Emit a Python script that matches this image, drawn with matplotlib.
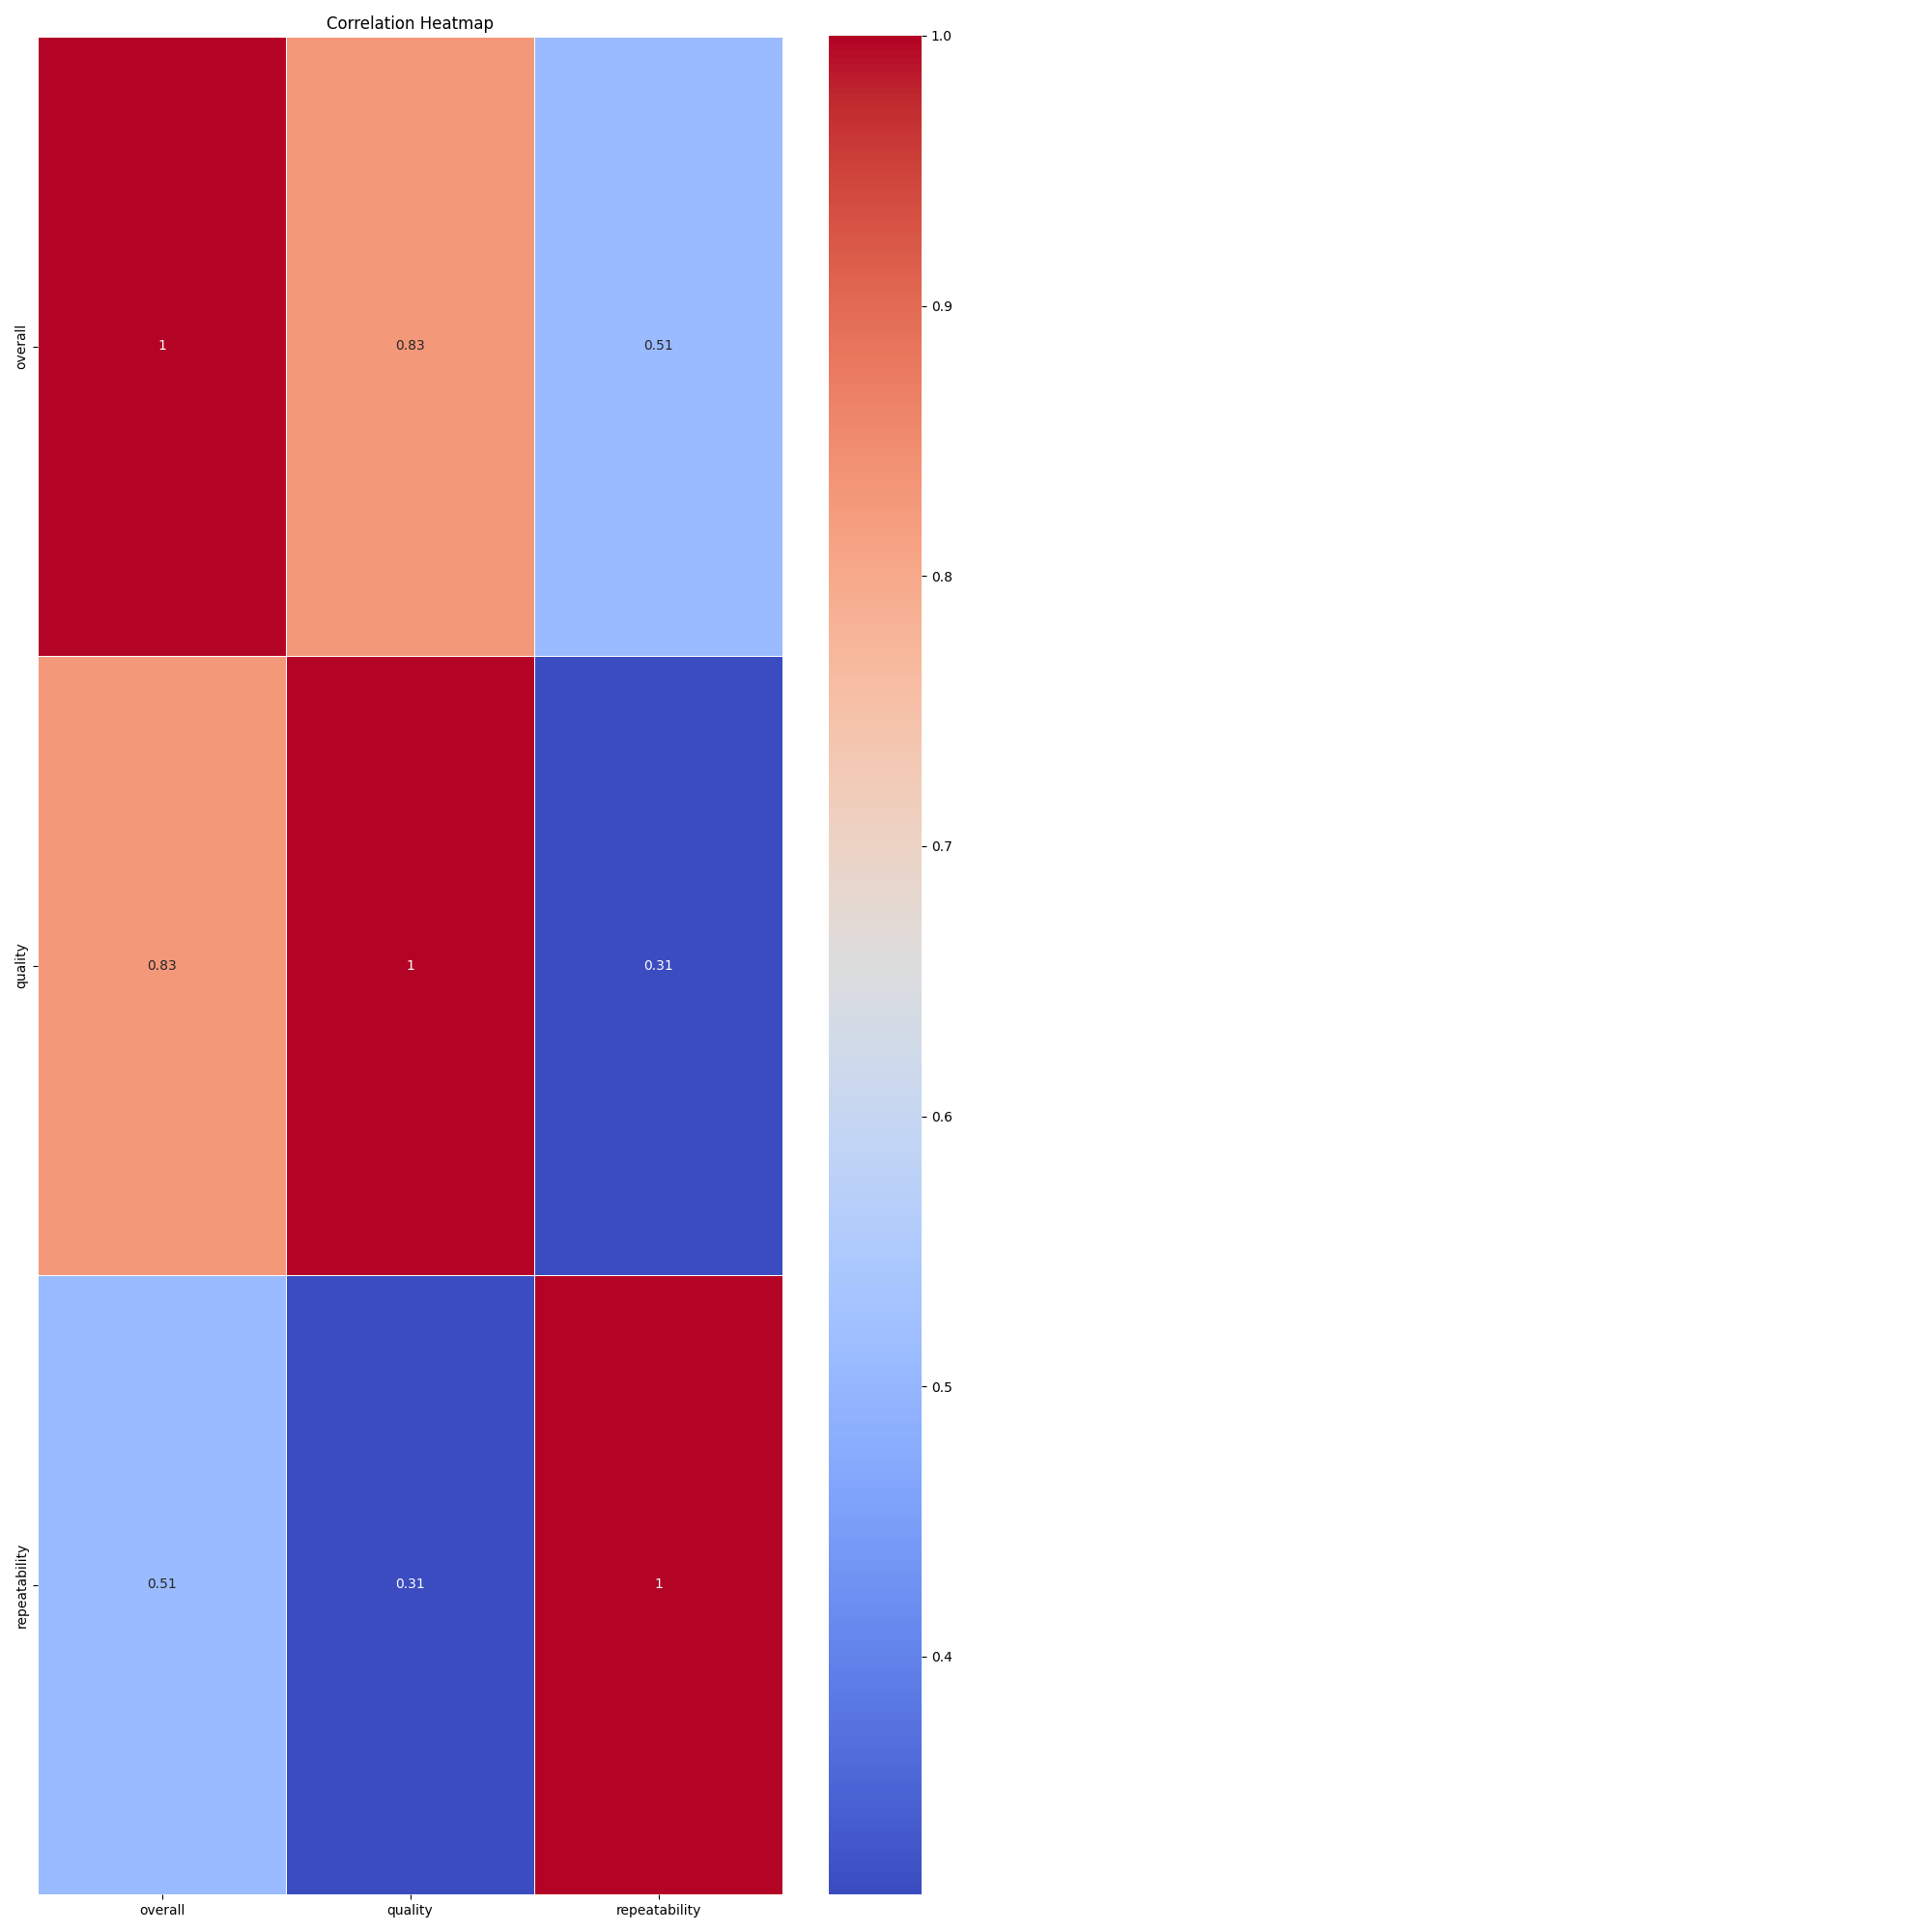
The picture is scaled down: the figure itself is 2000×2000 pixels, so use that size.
import matplotlib
matplotlib.use("Agg")
import matplotlib.pyplot as plt
import seaborn as sns
import numpy as np
import pandas as pd

labels = ["overall", "quality", "repeatability"]
row_overall = [1.0, 0.83, 0.51]
row_quality = [0.83, 1.0, 0.312]
row_repeat = [0.51, 0.312, 1.0]

corr = pd.DataFrame([row_overall, row_quality, row_repeat], index=labels, columns=labels)

fig = plt.figure(figsize=(20, 20), dpi=100)
ax = fig.add_axes([0.0195, 0.0195, 0.3855, 0.9615])
cax = fig.add_axes([0.429, 0.0195, 0.048, 0.962])
sns.heatmap(corr, annot=True, cmap="coolwarm", linewidths=0.5, ax=ax, cbar_ax=cax)
ax.set_title("Correlation Heatmap")
fig.savefig("out.png", dpi=100)
